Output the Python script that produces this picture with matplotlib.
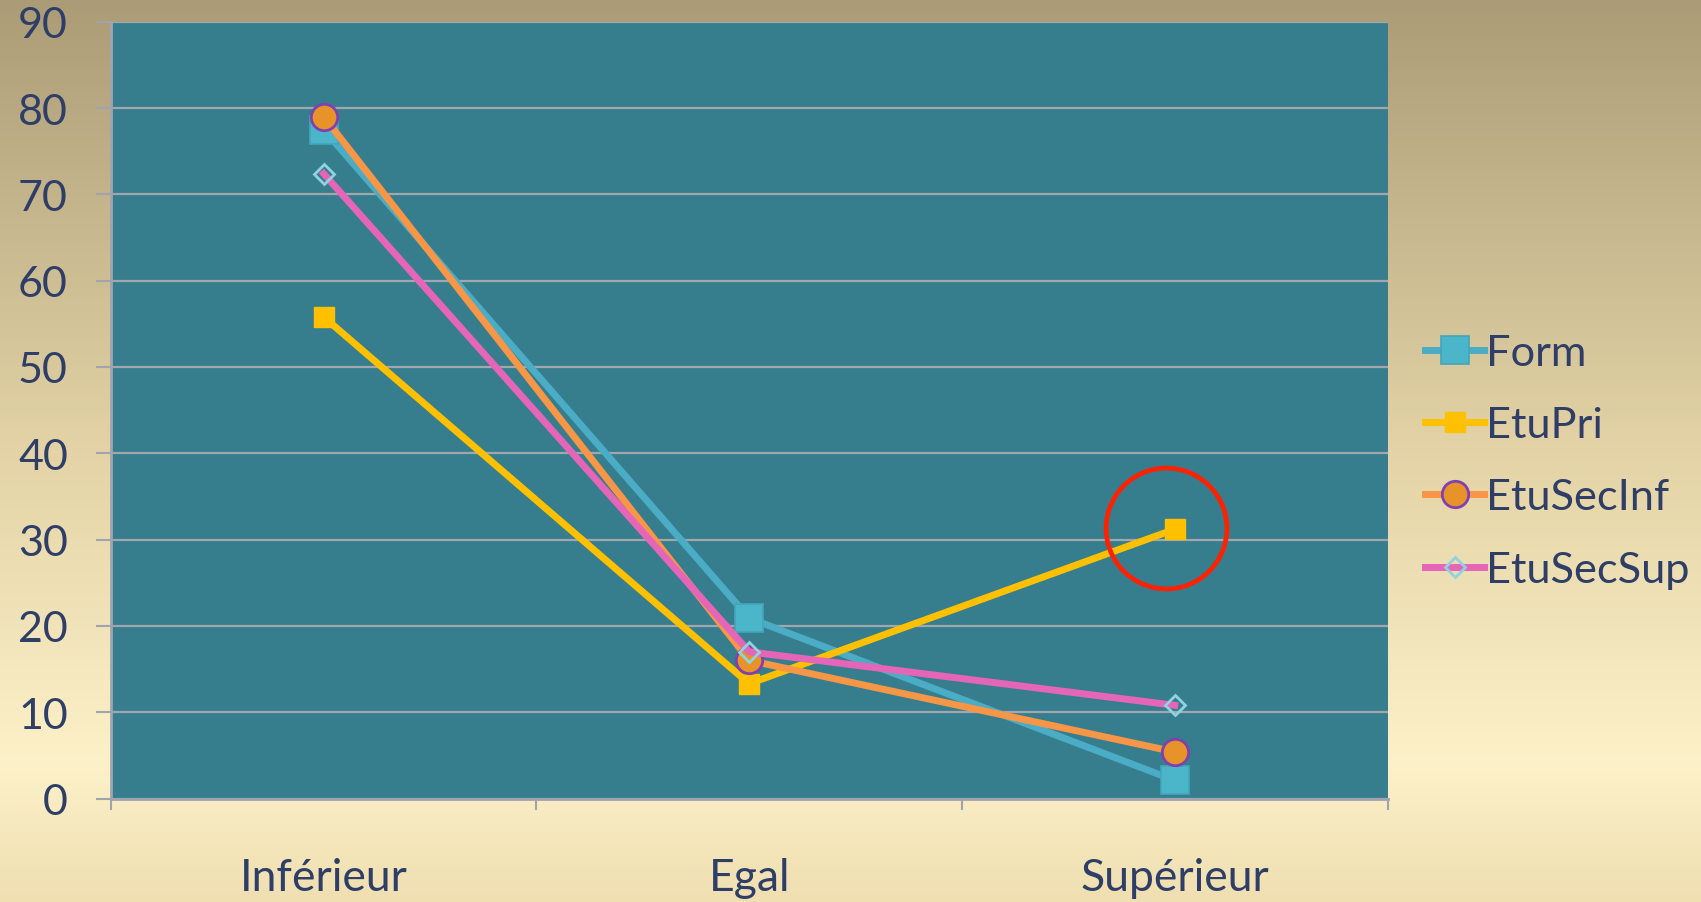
import numpy as np
import matplotlib.pyplot as plt
import matplotlib.colors as mcolors

# categories and series
categories = ['Inférieur', 'Egal', 'Supérieur']
form = [77.5, 20.9, 2.1]
etupri = [55.8, 13.3, 31.2]
etusecinf = [79.0, 16.0, 5.4]
etusecsup = [72.4, 17.0, 10.8]
highlight = (1.98, 31.3)  # red circle around EtuPri / Supérieur
yticks = np.arange(0, 90.1, 10)

txt = '#2e3e66'

plt.rcParams['font.family'] = ['Lato', 'DejaVu Sans']

fig = plt.figure(figsize=(17.01, 9.03), dpi=100)

# background gradient (tan at top -> cream near bottom)
bg = fig.add_axes([0, 0, 1, 1], zorder=-10)
cmap = mcolors.LinearSegmentedColormap.from_list(
    'bg', [(0.0, '#efdfb1'), (0.15, '#fdf1c9'), (0.5, '#e3d3a6'), (1.0, '#ab9c77')])
grad = np.linspace(0, 1, 256).reshape(-1, 1)
bg.imshow(grad, aspect='auto', cmap=cmap, origin='lower', extent=[0, 1, 0, 1])
bg.axis('off')

ax = fig.add_axes([0.0652, 0.1146, 0.7505, 0.8602])
ax.set_facecolor('#367e8e')

x = np.arange(len(categories))
ax.plot(x, form, color='#4bacc6', lw=5, marker='s', ms=20,
        mfc='#4bb5c9', mec='#43a6ba', mew=1.2, label='Form')
ax.plot(x, etupri, color='#ffc000', lw=5, marker='s', ms=15,
        mfc='#ffc000', mec='#ffc000', label='EtuPri')
ax.plot(x, etusecinf, color='#f79646', lw=5, marker='o', ms=19,
        mfc='#e8922a', mec='#8040b0', mew=2, label='EtuSecInf')
ax.plot(x, etusecsup, color='#e565b8', lw=5, marker='D', ms=10.5,
        mfc='none', mec='#8fd3e0', mew=2, label='EtuSecSup')

ax.plot(highlight[0], highlight[1], marker='o', ms=87, mfc='none',
        mec='#fe2200', mew=3.4, zorder=5)

ax.set_xlim(-0.5, 2.5)
ax.set_ylim(0, 90)
ax.set_yticks(yticks)
ax.set_yticklabels([f'{v:.0f}' for v in yticks], fontsize=31, color=txt)
ax.set_xticks(x)
ax.set_xticklabels(categories, fontsize=32, color=txt)
ax.set_xticks(np.arange(-0.5, 2.6, 1), minor=True)
ax.tick_params(axis='x', which='major', length=0, pad=42)
ax.tick_params(axis='x', which='minor', length=8, width=1.5, color='#a0a4b0', direction='out')
ax.tick_params(axis='y', length=11, width=1.5, color='#a0a4b0', pad=20)

ax.grid(axis='y', color='#a3a6ad', lw=1.6)
ax.set_axisbelow(True)
for s in ['top', 'right']:
    ax.spines[s].set_visible(False)
for s in ['left', 'bottom']:
    ax.spines[s].set_color('#a0a4b0')
    ax.spines[s].set_linewidth(2)

leg = ax.legend(loc='center left', bbox_to_anchor=(0.838, 0.488),
                bbox_transform=fig.transFigure, frameon=False, fontsize=31.2,
                handlelength=1.35, handletextpad=0.05, labelspacing=0.79,
                borderpad=0, borderaxespad=0)
for t in leg.get_texts():
    t.set_color(txt)

plt.savefig('out.png', dpi=100)
